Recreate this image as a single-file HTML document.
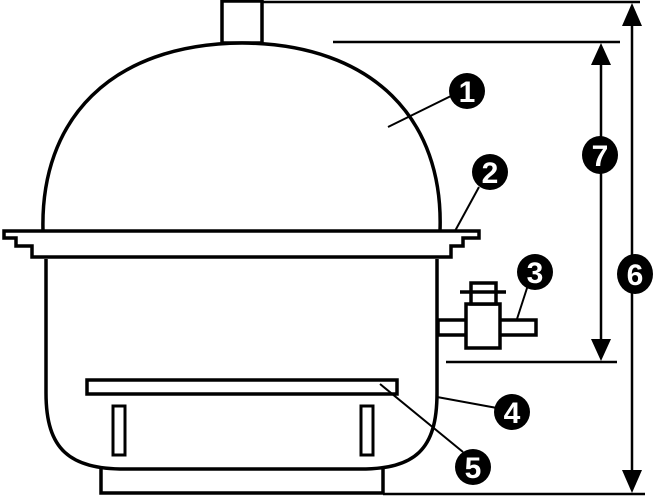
<!DOCTYPE html>
<html><head><style>html,body{margin:0;padding:0;background:#fff;}svg{display:block}</style></head>
<body>
<svg width="653" height="496" viewBox="0 0 653 496" xmlns="http://www.w3.org/2000/svg">
<g fill="none" stroke="#000" stroke-width="3.5">
<!-- knob -->
<rect x="222" y="1" width="40" height="42" fill="#fff"/>
<!-- dome -->
<path d="M43,231 C40,120 110,44 242,43 C374,44 444,120 440,231" fill="#fff"/>
<!-- rim -->
<path d="M4,231 L479,231 L479,238 L463,238 L463,246 L451,246 L451,257 L32,257 L32,246 L16,246 L16,238 L4,238 Z" fill="#fff"/>
<!-- body -->
<path d="M46,259 L46,393 C46,450 70,469 125,469 L360,469 C415,469 437,450 437,393 L437,259"/>
<!-- base -->
<path d="M101,469 L101,493 L383,493 L383,469"/>
<!-- plate -->
<rect x="87" y="380" width="310" height="14"/>
<rect x="113" y="406" width="12" height="49" stroke-width="3"/>
<rect x="361" y="406" width="12" height="49" stroke-width="3"/>
<!-- valve -->
<rect x="438" y="320" width="98" height="15" fill="#fff"/>
<rect x="466" y="304" width="34" height="44" fill="#fff"/>
<rect x="471" y="283" width="25" height="21" fill="#fff"/>
<line x1="460" y1="292" x2="506" y2="292"/>
</g>
<g stroke="#000" stroke-width="2.5">
<!-- dimension lines -->
<line x1="262" y1="2" x2="640" y2="2"/>
<line x1="383" y1="494" x2="645" y2="494"/>
<line x1="632" y1="10" x2="632" y2="486"/>
<line x1="333" y1="42" x2="620" y2="42"/>
<line x1="446" y1="362" x2="617" y2="362"/>
<line x1="601" y1="50" x2="601" y2="355"/>
<!-- leaders -->
<line x1="388" y1="127" x2="453" y2="95" stroke-width="2"/>
<line x1="455" y1="231" x2="479" y2="187" stroke-width="2"/>
<line x1="517" y1="319" x2="528" y2="285" stroke-width="2"/>
<line x1="437" y1="397" x2="497" y2="408" stroke-width="2"/>
<line x1="380" y1="384" x2="463" y2="452" stroke-width="2"/>
</g>
<g fill="#000">
<polygon points="632,3 622,26 642,26"/>
<polygon points="632,493 622,470 642,470"/>
<polygon points="601,43 591,65 611,65"/>
<polygon points="601,361 591,339 611,339"/>
<ellipse cx="467" cy="91" rx="18" ry="18"/>
<ellipse cx="490" cy="172" rx="18" ry="18"/>
<ellipse cx="535" cy="272" rx="18" ry="18"/>
<ellipse cx="512" cy="412" rx="18" ry="18"/>
<ellipse cx="473" cy="467" rx="18" ry="18"/>
<ellipse cx="635" cy="274" rx="18" ry="20"/>
<ellipse cx="600" cy="155" rx="18" ry="19"/>
</g>
<g fill="#fff" font-family="Liberation Sans, sans-serif" font-weight="bold" font-size="30" text-anchor="middle">
<text x="467" y="102">1</text>
<text x="490" y="183">2</text>
<text x="535" y="283">3</text>
<text x="512" y="423">4</text>
<text x="473" y="478">5</text>
<text x="635" y="285">6</text>
<text x="600" y="166">7</text>
</g>
</svg>
</body></html>
